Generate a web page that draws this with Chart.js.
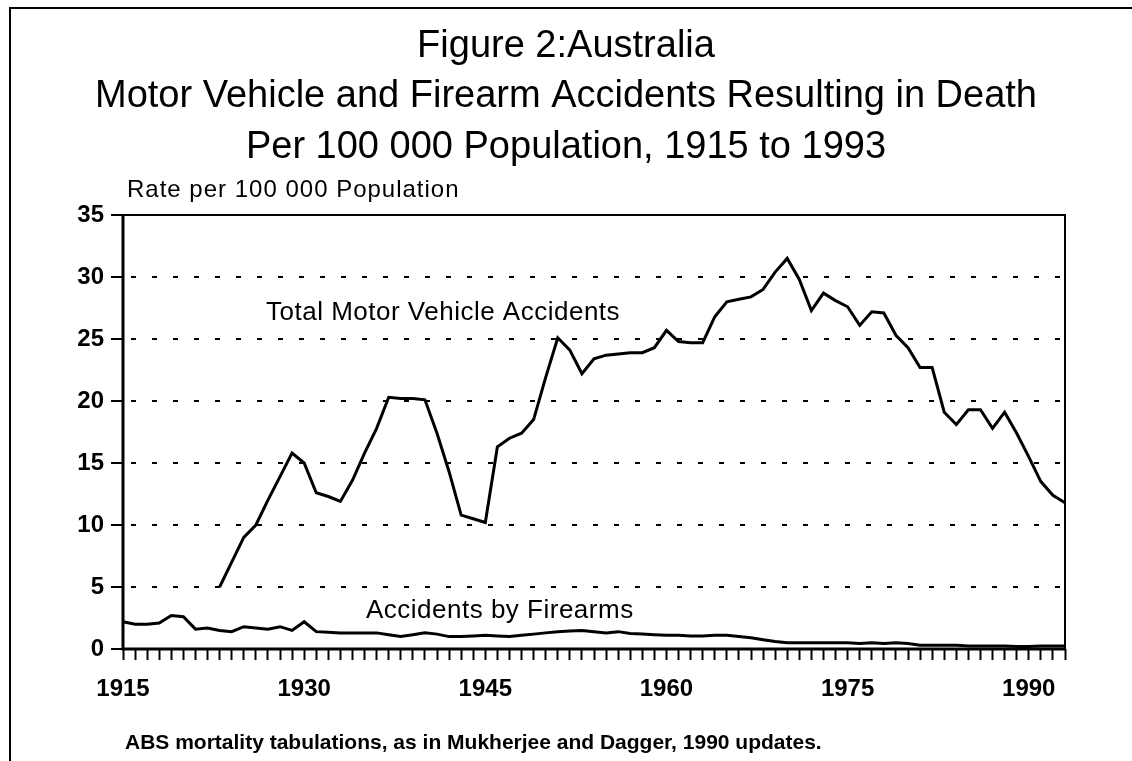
<!DOCTYPE html>
<html>
<head>
<meta charset="utf-8">
<script src="https://cdn.jsdelivr.net/npm/chart.js@4/dist/chart.umd.min.js"></script>
<style>
  html, body { margin: 0; padding: 0; background: #fff; }
  #wrap { width: 1132px; height: 761px; position: relative; }
</style>
</head>
<body>
<div id="wrap"><canvas id="accidentsChart" width="1132" height="761"></canvas></div>
<script>
// годы (ось X)
const years = [
  1915, 1916, 1917, 1918, 1919, 1920, 1921, 1922, 1923, 1924,
  1925, 1926, 1927, 1928, 1929, 1930, 1931, 1932, 1933, 1934,
  1935, 1936, 1937, 1938, 1939, 1940, 1941, 1942, 1943, 1944,
  1945, 1946, 1947, 1948, 1949, 1950, 1951, 1952, 1953, 1954,
  1955, 1956, 1957, 1958, 1959, 1960, 1961, 1962, 1963, 1964,
  1965, 1966, 1967, 1968, 1969, 1970, 1971, 1972, 1973, 1974,
  1975, 1976, 1977, 1978, 1979, 1980, 1981, 1982, 1983, 1984,
  1985, 1986, 1987, 1988, 1989, 1990, 1991, 1992, 1993
];

// Total Motor Vehicle Accidents (rate per 100 000)
const motorVehicle = [
  null, null, null, null, null, null, null, null, 5.0, 7.0,
  9.0, 10.0, 12.0, 13.9, 15.8, 15.0, 12.6, 12.3, 11.9, 13.6,
  15.8, 17.8, 20.3, 20.2, 20.2, 20.1, 17.4, 14.3, 10.8, 10.5,
  10.2, 16.3, 17.0, 17.4, 18.5, 21.9, 25.1, 24.1, 22.2, 23.4,
  23.7, 23.8, 23.9, 23.9, 24.3, 25.7, 24.8, 24.7, 24.7, 26.8,
  28.0, 28.2, 28.4, 29.0, 30.4, 31.5, 29.8, 27.3, 28.7, 28.1,
  27.6, 26.1, 27.2, 27.1, 25.3, 24.3, 22.7, 22.7, 19.1, 18.1,
  19.3, 19.3, 17.8, 19.1, 17.4, 15.5, 13.5, 12.4, 11.8
];

// Accidents by Firearms
const firearms = [
  2.2, 2.0, 2.0, 2.1, 2.7, 2.6, 1.6, 1.7, 1.5, 1.4,
  1.8, 1.7, 1.6, 1.8, 1.5, 2.2, 1.4, 1.35, 1.3, 1.3,
  1.3, 1.3, 1.15, 1.0, 1.15, 1.3, 1.2, 1.0, 1.0, 1.05,
  1.1, 1.05, 1.0, 1.1, 1.2, 1.3, 1.4, 1.45, 1.5, 1.4,
  1.3, 1.4, 1.25, 1.2, 1.15, 1.1, 1.1, 1.05, 1.05, 1.1,
  1.1, 1.0, 0.9, 0.75, 0.6, 0.5, 0.5, 0.5, 0.5, 0.5,
  0.5, 0.45, 0.5, 0.45, 0.5, 0.45, 0.3, 0.3, 0.3, 0.3,
  0.25, 0.25, 0.25, 0.25, 0.2, 0.2, 0.25, 0.25, 0.25
];

// подписи осей
const xTickYears = [1915, 1930, 1945, 1960, 1975, 1990];
const yMin = 0, yMax = 35, yStep = 5;

const titleLines = [
  'Figure 2:Australia',
  'Motor Vehicle and Firearm Accidents Resulting in Death',
  'Per 100 000 Population, 1915 to 1993'
];

const FONT = '"Liberation Sans", Arial, Helvetica, sans-serif';

// рамки и надписи на холсте
const decorPlugin = {
  id: 'decor',
  beforeDraw(chart) {
    const ctx = chart.ctx;
    ctx.save();
    ctx.fillStyle = '#fff';
    ctx.fillRect(0, 0, chart.width, chart.height);
    ctx.restore();
  },
  afterDraw(chart) {
    const ctx = chart.ctx;
    const a = chart.chartArea;
    const x = chart.scales.x;
    const y = chart.scales.y;
    ctx.save();
    ctx.strokeStyle = '#000';
    ctx.setLineDash([]);

    // верх и правая сторона области графика
    ctx.lineWidth = 2;
    ctx.beginPath();
    ctx.moveTo(a.left, a.top);
    ctx.lineTo(a.right, a.top);
    ctx.lineTo(a.right, a.bottom);
    ctx.stroke();

    // оси
    ctx.lineWidth = 3;
    ctx.beginPath();
    ctx.moveTo(a.left, a.top);
    ctx.lineTo(a.left, a.bottom);
    ctx.lineTo(a.right, a.bottom);
    ctx.stroke();

    // внешняя рамка страницы
    ctx.lineWidth = 2;
    ctx.beginPath();
    ctx.moveTo(10, chart.height);
    ctx.lineTo(10, 8);
    ctx.lineTo(chart.width, 8);
    ctx.stroke();

    ctx.fillStyle = '#000';
    ctx.textBaseline = 'middle';

    ctx.textAlign = 'left';
    ctx.letterSpacing = '1px';
    ctx.font = '24px ' + FONT;
    ctx.fillText('Rate per 100 000 Population', 127, 190);

    ctx.textAlign = 'center';
    ctx.letterSpacing = '0.5px';
    ctx.font = '26px ' + FONT;
    ctx.fillText('Total Motor Vehicle Accidents', x.getPixelForValue(26.5), y.getPixelForValue(27.1));
    ctx.fillText('Accidents by Firearms', x.getPixelForValue(31.2), y.getPixelForValue(3.1));

    ctx.textAlign = 'left';
    ctx.letterSpacing = '0px';
    ctx.font = 'bold 21px ' + FONT;
    ctx.fillText('ABS mortality tabulations, as in Mukherjee and Dagger, 1990 updates.', 125, 743);
    ctx.restore();
  }
};

const accidentsChart = new Chart(document.getElementById('accidentsChart'), {
  type: 'line',
  data: {
    labels: years,
    datasets: [{
      label: 'Total Motor Vehicle Accidents',
      data: motorVehicle,
      borderColor: '#000',
      borderWidth: 3,
      pointRadius: 0,
      tension: 0,
      spanGaps: false
    }, {
      label: 'Accidents by Firearms',
      data: firearms,
      borderColor: '#000',
      borderWidth: 3,
      pointRadius: 0,
      tension: 0
    }]
  },
  options: {
    responsive: false,
    animation: false,
    events: [],
    layout: {
      padding: { top: 0, right: 0, bottom: 40, left: 0 }
    },
    scales: {
      x: {
        type: 'category',
        afterFit: (s) => { s.height = 72; },
        grid: {
          drawOnChartArea: false,
          drawTicks: true,
          tickLength: 11,
          tickWidth: 2,
          tickColor: '#000'
        },
        border: { display: false },
        ticks: {
          autoSkip: false,
          maxRotation: 0,
          padding: 15,
          color: '#000',
          font: { family: FONT, size: 24, weight: 'bold' },
          callback: function (value) {
            const yr = years[value];
            return xTickYears.includes(yr) ? String(yr) : '';
          }
        }
      },
      y: {
        min: yMin,
        max: yMax,
        afterFit: (s) => { s.width = 123; },
        grid: {
          color: '#000',
          lineWidth: 2,
          drawTicks: true,
          tickLength: 12,
          tickWidth: 2,
          tickColor: '#000'
        },
        border: { display: false, dash: [5, 16], dashOffset: -8 },
        ticks: {
          stepSize: yStep,
          padding: 7,
          color: '#000',
          font: { family: FONT, size: 24, weight: 'bold' }
        }
      },
      // пустая правая ось — только отступ справа, чтобы заголовок был по центру
      yRight: {
        position: 'right',
        min: yMin,
        max: yMax,
        afterFit: (s) => { s.width = 67; },
        grid: { display: false },
        border: { display: false },
        ticks: { display: false }
      }
    },
    plugins: {
      legend: { display: false },
      tooltip: { enabled: false },
      title: {
        display: true,
        text: titleLines,
        color: '#000',
        font: { family: FONT, size: 38, weight: 'normal', lineHeight: 1.316 },
        padding: { top: 22, bottom: 43 }
      }
    }
  },
  plugins: [decorPlugin]
});
</script>
</body>
</html>
